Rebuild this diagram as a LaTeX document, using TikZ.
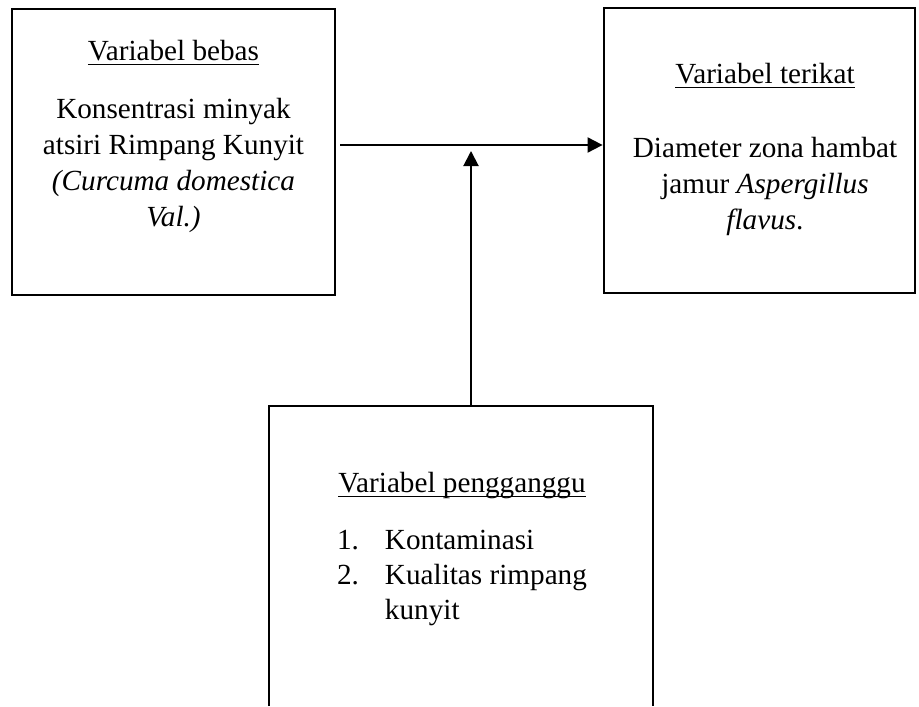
\documentclass[tikz,border=0pt]{standalone}
\usepackage{amsmath}
\usepackage{fontspec}
\setmainfont{Liberation Serif}
\usetikzlibrary{arrows.meta, positioning}
\newcommand{\vartitle}[1]{\underline{\smash[b]{#1}}}

\begin{document}
\begin{tikzpicture}[
    x=0.5pt, y=-0.5pt,
    box/.style={
        draw,
        line width=1.4pt,
        inner sep=0pt
    },
    boxtext/.style={
        align=center,
        inner sep=0pt,
        font=\fontsize{14.6pt}{18pt}\selectfont
    },
    arrow/.style={-{Triangle[length=7.5pt, width=7.5pt]}, line width=1pt}
]
\useasboundingbox (0,0) rectangle (919,706);

% Variable boxes
\node[box, minimum width=161.5pt, minimum height=143pt] (independent_var) at (173.5,152) {};
\node[box, minimum width=155.5pt, minimum height=142.5pt] (dependent_var) at (759.5,150.5) {};
\node[box, draw=none, outer sep=0pt, minimum width=192pt, minimum height=150pt] (confounding_var) at (461,556) {};
\draw[line width=1.4pt] (confounding_var.south west) |- (confounding_var.north) -| (confounding_var.south east);

% Box texts
\node[boxtext, anchor=north] (independent_text) at (173.5,40) {\vartitle{Variabel bebas}\\[11pt]
    Konsentrasi minyak\\ atsiri Rimpang Kunyit\\ \textit{(Curcuma domestica}\\ \textit{Val.)}};
\node[boxtext, anchor=north] (dependent_text) at (765,63) {\vartitle{Variabel terikat}\\[19pt]
    Diameter zona hambat\\ jamur \textit{Aspergillus}\\ \textit{flavus}.};
\node[inner sep=0pt, anchor=north, font=\fontsize{14.6pt}{17.5pt}\selectfont] (confounding_text) at (462,467.5) {%
    \begin{tabular}{@{}l@{\hspace{13pt}}l@{}}
    \multicolumn{2}{@{}c@{}}{\vartitle{Variabel pengganggu}}\\[11pt]
    1. & Kontaminasi\\
    2. & Kualitas rimpang\\
       & kunyit
    \end{tabular}};

% Connections
\coordinate (junction) at (471,145);
\coordinate (arrow_tip) at (471,151);
\draw[arrow] ([xshift=2pt]independent_var.east |- junction) -- (dependent_var.west |- junction);
\draw[arrow] (confounding_var.north -| arrow_tip) -- (arrow_tip);

\end{tikzpicture}
\end{document}
